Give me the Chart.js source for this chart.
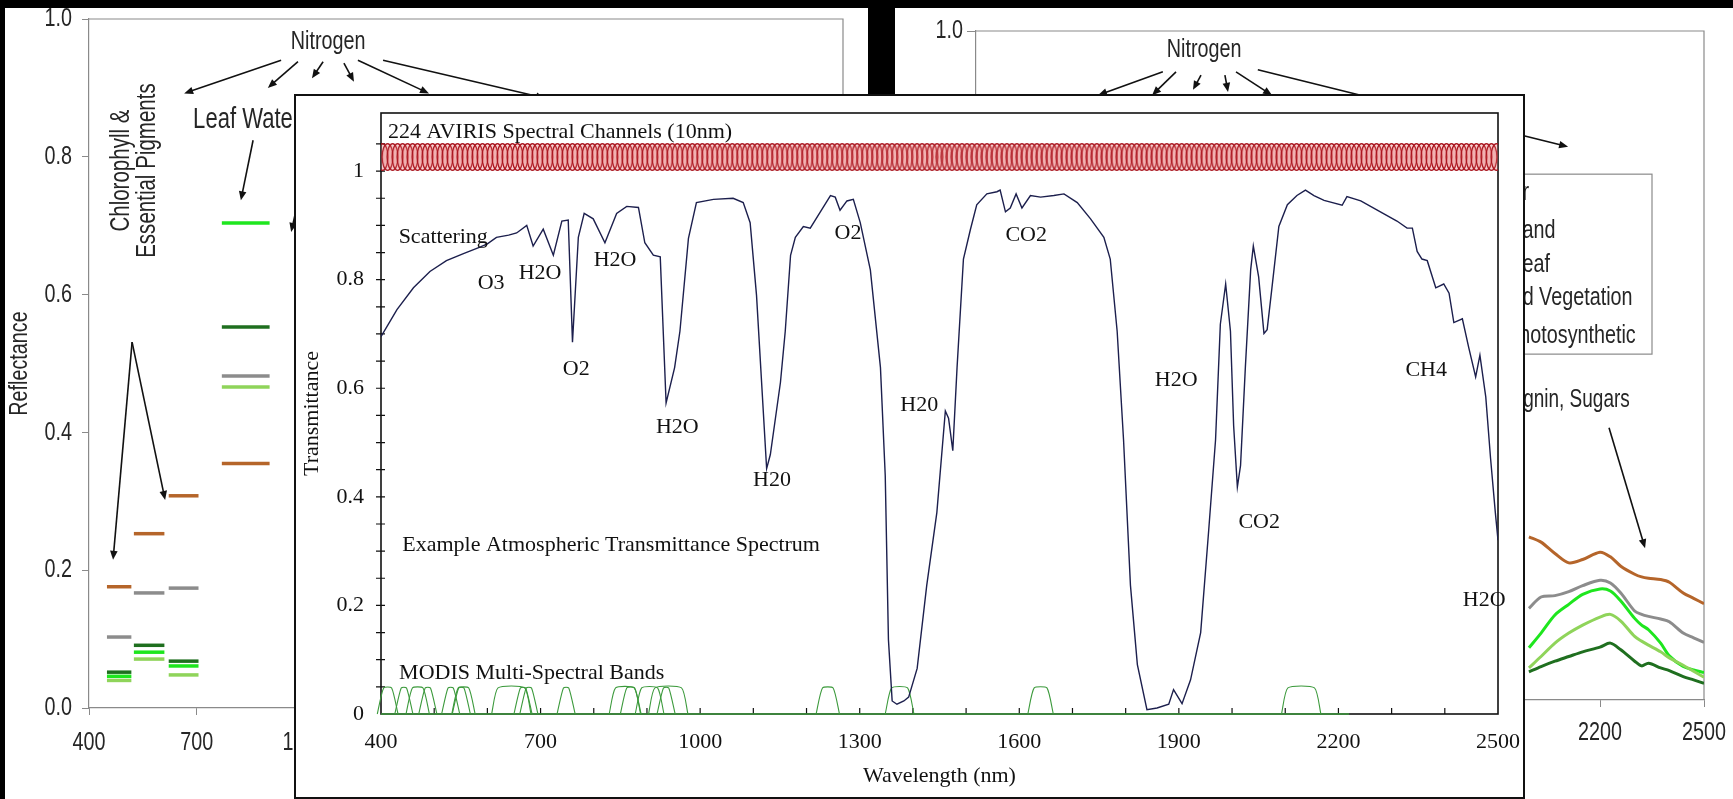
<!DOCTYPE html>
<html>
<head>
<meta charset="utf-8">
<script src="https://cdn.jsdelivr.net/npm/chart.js@4.4.1/dist/chart.umd.min.js"></script>
<style>
  html, body { margin: 0; padding: 0; background: #000; width: 1733px; height: 799px; overflow: hidden; }
  .panel { position: absolute; background: #fff; }
  #leftPanel { left: 5px; top: 8px; width: 863px; height: 791px; }
  #rightPanel { left: 895px; top: 8px; width: 838px; height: 791px; }
  #mainPanel { left: 294px; top: 94px; width: 1231px; height: 705px; border: 2px solid #111; box-sizing: border-box; }
  canvas { position: absolute; left: 0; top: 0; }
</style>
</head>
<body>
<div class="panel" id="leftPanel"><canvas id="leftChart" width="863" height="791"></canvas></div>
<div class="panel" id="rightPanel"><canvas id="rightChart" width="838" height="791"></canvas></div>
<div class="panel" id="mainPanel"><canvas id="mainChart" width="1227" height="701"></canvas></div>

<script>
// ── atmospheric transmittance (front chart) ──
const waveNm = [400, 430, 461, 492, 523, 555, 586, 600, 617, 640, 655, 674, 686, 705, 724, 740, 752, 760, 771, 782,
  799, 821, 843, 862, 884, 896, 912, 925, 936, 952, 962, 978, 993, 1025, 1062, 1081, 1094, 1106, 1125, 1132,
  1151, 1160, 1170, 1179, 1194, 1207, 1226, 1245, 1254, 1263, 1276, 1288, 1301, 1320, 1339, 1348, 1354, 1361, 1370, 1383,
  1392, 1408, 1426, 1445, 1461, 1467, 1475, 1483, 1495, 1508, 1520, 1539, 1558, 1564, 1574, 1583, 1594, 1605, 1621, 1640,
  1665, 1684, 1709, 1734, 1759, 1771, 1784, 1796, 1809, 1822, 1840, 1859, 1881, 1890, 1906, 1922, 1941, 1956, 1969, 1978,
  1988, 1997, 2003, 2010, 2016, 2025, 2035, 2040, 2050, 2060, 2066, 2075, 2088, 2104, 2122, 2138, 2154, 2173, 2207, 2216,
  2242, 2273, 2310, 2329, 2339, 2348, 2357, 2367, 2383, 2398, 2408, 2417, 2433, 2445, 2458, 2466, 2477, 2486, 2495, 2500];
const transmittance = [0.695, 0.745, 0.785, 0.815, 0.835, 0.848, 0.860, 0.866, 0.878, 0.882, 0.886, 0.900, 0.862, 0.893, 0.845, 0.908, 0.910, 0.685, 0.878, 0.922,
  0.912, 0.868, 0.922, 0.935, 0.933, 0.868, 0.845, 0.842, 0.573, 0.638, 0.705, 0.876, 0.942, 0.948, 0.950, 0.942, 0.905, 0.771, 0.452, 0.478,
  0.611, 0.705, 0.845, 0.878, 0.898, 0.895, 0.925, 0.955, 0.952, 0.928, 0.945, 0.948, 0.905, 0.818, 0.638, 0.439, 0.137, 0.024, 0.018, 0.024,
  0.031, 0.084, 0.237, 0.371, 0.558, 0.545, 0.485, 0.638, 0.838, 0.892, 0.938, 0.958, 0.962, 0.965, 0.925, 0.932, 0.958, 0.932, 0.955, 0.952,
  0.955, 0.958, 0.942, 0.912, 0.878, 0.838, 0.705, 0.505, 0.237, 0.091, 0.008, 0.011, 0.018, 0.045, 0.019, 0.063, 0.150, 0.337, 0.505, 0.718,
  0.792, 0.705, 0.531, 0.418, 0.458, 0.638, 0.818, 0.862, 0.805, 0.701, 0.708, 0.785, 0.898, 0.938, 0.955, 0.965, 0.955, 0.946, 0.937, 0.953,
  0.945, 0.928, 0.908, 0.895, 0.895, 0.852, 0.838, 0.835, 0.785, 0.792, 0.775, 0.721, 0.728, 0.675, 0.621, 0.661, 0.584, 0.471, 0.371, 0.320];

const waveTicks = [400, 700, 1000, 1300, 1600, 1900, 2200, 2500];
const transTicks = [0, 0.2, 0.4, 0.6, 0.8, 1];

// MODIS band edges (nm)
const modisLo = [405, 438, 459, 483, 526, 546, 545, 620, 662, 673, 743, 841, 862, 890, 931, 915, 1230, 1360, 1628, 2105];
const modisHi = [420, 448, 479, 493, 536, 556, 565, 670, 672, 683, 753, 876, 877, 920, 941, 965, 1250, 1390, 1652, 2155];
const modisTop = 0.048;
const modisSkirt = 12;
const modisBaselineEnd = 2220;

// AVIRIS: 224 contiguous channels, 400-2500 nm
const avirisCount = 224;
const avirisFirst = 403;
const avirisLast = 2497;
const avirisLevel = 1.026;

// ── vegetation reflectance, Landsat band means (left back chart) ──
const tmBandLo = [450, 525, 622, 770];
const tmBandHi = [518, 610, 705, 903];
const soilBand = [0.176, 0.253, 0.308, 0.355];
const grayBand = [0.103, 0.167, 0.174, 0.482];
const greenBand = [0.046, 0.081, 0.061, 0.704];
const lightBand = [0.040, 0.071, 0.048, 0.466];
const darkBand = [0.052, 0.091, 0.068, 0.553];
const reflTicks = [0, 0.2, 0.4, 0.6, 0.8, 1.0];

// ── vegetation reflectance spectra (right back chart) ──
const specWave = [1995, 2030, 2070, 2110, 2150, 2200, 2230, 2260, 2300, 2320, 2340, 2375, 2400, 2440, 2470, 2500];
const soilSpec = [0.244, 0.236, 0.219, 0.205, 0.210, 0.221, 0.214, 0.200, 0.188, 0.184, 0.182, 0.180, 0.176, 0.160, 0.152, 0.144];
const graySpec = [0.137, 0.154, 0.156, 0.162, 0.171, 0.179, 0.175, 0.160, 0.133, 0.128, 0.125, 0.121, 0.117, 0.100, 0.093, 0.086];
const greenSpec = [0.078, 0.100, 0.127, 0.143, 0.158, 0.166, 0.163, 0.148, 0.122, 0.112, 0.105, 0.085, 0.066, 0.050, 0.045, 0.041];
const lightSpec = [0.048, 0.065, 0.085, 0.100, 0.112, 0.124, 0.128, 0.118, 0.095, 0.088, 0.082, 0.072, 0.063, 0.052, 0.043, 0.034];
const darkSpec = [0.042, 0.050, 0.058, 0.065, 0.072, 0.079, 0.085, 0.075, 0.058, 0.051, 0.055, 0.048, 0.044, 0.035, 0.030, 0.025];
const legendLabels = ['Conifer', 'Grassland', 'Broadleaf', 'Shaded Vegetation', 'Non-photosynthetic'];

const COLORS = {
  soil: '#b5652a',
  gray: '#8c8c8c',
  green: '#1ee61e',
  light: '#8fd45a',
  dark: '#1f6f1f',
  curve: '#1c1f4d',
  modis: '#3c9a3c',
  axis: '#8a8a8a',
  text: '#262626',
};

// Arial Narrow look-alike: regular sans squeezed horizontally
const SANS = "'Liberation Sans', Arial, sans-serif";
const SQUEEZE = 0.76;
const SANS_SIZE = 26;
const SERIF = "'Liberation Serif', 'Times New Roman', serif";
const SERIF_SIZE = 22;

Chart.defaults.animation = false;
Chart.defaults.responsive = false;
Chart.defaults.plugins.legend.display = false;
Chart.defaults.plugins.tooltip.enabled = false;

function drawArrow(ctx, x1, y1, x2, y2, color) {
  const ang = Math.atan2(y2 - y1, x2 - x1);
  const head = 9, half = 3.8;
  ctx.strokeStyle = color;
  ctx.fillStyle = color;
  ctx.lineWidth = 1.6;
  ctx.beginPath();
  ctx.moveTo(x1, y1);
  ctx.lineTo(x2 - Math.cos(ang) * head * 0.8, y2 - Math.sin(ang) * head * 0.8);
  ctx.stroke();
  ctx.beginPath();
  ctx.moveTo(x2, y2);
  ctx.lineTo(x2 - head * Math.cos(ang) + half * Math.sin(ang), y2 - head * Math.sin(ang) - half * Math.cos(ang));
  ctx.lineTo(x2 - head * Math.cos(ang) - half * Math.sin(ang), y2 - head * Math.sin(ang) + half * Math.cos(ang));
  ctx.closePath();
  ctx.fill();
}

function squeezedText(ctx, text, x, y, align, squeeze, rotate) {
  ctx.save();
  ctx.translate(x, y);
  if (rotate) ctx.rotate(rotate * Math.PI / 180);
  ctx.scale(squeeze, 1);
  ctx.textAlign = align;
  ctx.textBaseline = 'middle';
  ctx.fillText(text, 0, 0);
  ctx.restore();
}

// text / arrow / box notes placed in data units
function makeNotes(notes) {
  return {
    id: 'notes',
    afterDatasetsDraw(chart) {
      const { ctx, scales: { x, y } } = chart;
      const px = (v) => x.getPixelForValue(v);
      const py = (v) => y.getPixelForValue(v);
      ctx.save();
      (notes.boxes || []).forEach(([a, b, c, d]) => {
        ctx.strokeStyle = COLORS.axis;
        ctx.lineWidth = 1.2;
        ctx.fillStyle = '#fff';
        ctx.fillRect(px(a), py(b), px(c) - px(a), py(d) - py(b));
        ctx.strokeRect(px(a), py(b), px(c) - px(a), py(d) - py(b));
      });
      (notes.arrows || []).forEach(([a, b, c, d]) => drawArrow(ctx, px(a), py(b), px(c), py(d), notes.arrowColor || '#111'));
      (notes.texts || []).forEach((t) => {
        ctx.font = `${t.size || notes.size}px ${notes.family}`;
        ctx.fillStyle = notes.color;
        squeezedText(ctx, t.text, px(t.x), py(t.y), t.align || 'center', notes.squeeze || 1, t.rotate);
      });
      ctx.restore();
    },
  };
}

// condensed tick labels (and y title) for the two back charts, placed from the library's ticks
function narrowTicks(yGap, xGap, yTitle) {
  return {
    id: 'narrowTicks',
    afterDraw(chart) {
      const { ctx, scales: { x, y }, chartArea: { left, top, bottom } } = chart;
      ctx.save();
      ctx.font = `${SANS_SIZE}px ${SANS}`;
      ctx.fillStyle = COLORS.text;
      y.ticks.forEach((t) => {
        squeezedText(ctx, Number(t.value).toFixed(1), left - yGap, y.getPixelForValue(t.value), 'right', SQUEEZE);
      });
      x.ticks.forEach((t) => {
        squeezedText(ctx, String(t.value), x.getPixelForValue(t.value), bottom + xGap, 'center', SQUEEZE);
      });
      if (yTitle) squeezedText(ctx, yTitle.text, yTitle.x, (top + bottom) / 2, 'center', SQUEEZE, -90);
      ctx.restore();
    },
  };
}

function fixBox(size, key) {
  return (s) => {
    s[key] = size;
    s.paddingTop = 0; s.paddingBottom = 0; s.paddingLeft = 0; s.paddingRight = 0;
  };
}

function segment(lo, hi, v) {
  return [{ x: lo, y: v }, { x: hi, y: v }];
}

function backFrame(id) {
  return {
    id,
    beforeDatasetsDraw(chart) {
      const { ctx, chartArea: { left, right, top, bottom } } = chart;
      ctx.save();
      ctx.strokeStyle = COLORS.axis;
      ctx.lineWidth = 1.2;
      ctx.beginPath();
      ctx.moveTo(left, top); ctx.lineTo(right, top); ctx.lineTo(right, bottom);
      ctx.stroke();
      ctx.restore();
    },
  };
}

function backScales(xHeight, yWidth, yTickLen) {
  return {
    x: {
      type: 'linear', min: 400, max: 2500,
      afterBuildTicks: (s) => { s.ticks = waveTicks.map((v) => ({ value: v })); },
      afterFit: fixBox(xHeight, 'height'),
      grid: { display: true, drawOnChartArea: false, color: COLORS.axis, tickLength: 7 },
      border: { color: COLORS.axis, width: 1.2 },
      ticks: { display: false },
    },
    y: {
      min: 0, max: 1,
      afterBuildTicks: (s) => { s.ticks = reflTicks.map((v) => ({ value: v })); },
      afterFit: fixBox(yWidth, 'width'),
      grid: { display: true, drawOnChartArea: false, color: COLORS.axis, tickLength: yTickLen },
      border: { color: COLORS.axis, width: 1.2 },
      ticks: { display: false },
    },
  };
}

// ── LEFT back chart ──
function renderLeft() {
  const series = [
    [soilBand, COLORS.soil], [grayBand, COLORS.gray], [lightBand, COLORS.light],
    [greenBand, COLORS.green], [darkBand, COLORS.dark],
  ];
  const datasets = [];
  series.forEach(([vals, color]) => {
    tmBandLo.forEach((lo, i) => {
      datasets.push({
        type: 'line', data: segment(lo, tmBandHi[i], vals[i]),
        borderColor: color, borderWidth: 3.5, pointRadius: 0, borderCapStyle: 'butt',
      });
    });
  });

  const notes = makeNotes({
    family: SANS, size: SANS_SIZE, color: COLORS.text, squeeze: SQUEEZE,
    texts: [
      { x: 1066, y: 0.967, text: 'Nitrogen' },
      { x: 690, y: 0.853, text: 'Leaf Water', align: 'left', size: 29 },
      { x: 492, y: 0.780, text: 'Chlorophyll &', rotate: -90, size: 27 },
      { x: 562, y: 0.780, text: 'Essential Pigments', rotate: -90, size: 27 },
    ],
    arrows: [
      [935, 0.940, 665, 0.892], [982, 0.938, 898, 0.900], [1052, 0.938, 1021, 0.914],
      [1110, 0.936, 1138, 0.909], [1149, 0.940, 1347, 0.892], [1219, 0.940, 1670, 0.885],
      [857, 0.824, 823, 0.737], [1015, 0.81, 963, 0.691],
      [520, 0.531, 467, 0.215], [520, 0.531, 612, 0.302],
    ],
  });

  new Chart(document.getElementById('leftChart'), {
    type: 'scatter',
    data: { datasets },
    options: {
      layout: { padding: { top: 11, right: 25, left: 0, bottom: 0 } },
      scales: backScales(91, 84, 7),
    },
    plugins: [backFrame('leftFrame'), notes, narrowTicks(17, 35, { text: 'Reflectance', x: 15 })],
  });
}

// ── RIGHT back chart ──
function renderRight() {
  const series = [
    [soilSpec, COLORS.soil], [graySpec, COLORS.gray], [lightSpec, COLORS.light],
    [greenSpec, COLORS.green], [darkSpec, COLORS.dark],
  ];
  const datasets = series.map(([vals, color]) => ({
    type: 'line',
    data: specWave.map((w, i) => ({ x: w, y: vals[i] })),
    borderColor: color, borderWidth: 3, pointRadius: 0, tension: 0.3,
  }));

  const legendRows = [0.758, 0.701, 0.650, 0.601, 0.545];
  const notes = makeNotes({
    family: SANS, size: SANS_SIZE, color: COLORS.text, squeeze: SQUEEZE,
    boxes: [[1623, 0.786, 2350, 0.517]],
    texts: [
      { x: 1058, y: 0.972, text: 'Nitrogen' },
      ...legendLabels.map((t, i) => ({ x: 1812, y: legendRows[i], text: t, align: 'left' })),
      { x: 2286, y: 0.448, text: 'Cellulose, Lignin, Sugars', align: 'right', size: 25 },
    ],
    arrows: [
      [939, 0.939, 752, 0.904], [977, 0.939, 908, 0.904], [1049, 0.934, 1026, 0.912],
      [1118, 0.934, 1127, 0.909], [1150, 0.939, 1254, 0.904], [1213, 0.942, 2108, 0.827],
      [2226, 0.407, 2330, 0.227],
    ],
  });

  new Chart(document.getElementById('rightChart'), {
    type: 'scatter',
    data: { datasets },
    options: {
      layout: { padding: { top: 23, right: 29, left: 0, bottom: 0 } },
      scales: backScales(99, 81, 9),
    },
    plugins: [backFrame('rightFrame'), notes, narrowTicks(13, 33, null)],
  });
}

// ── FRONT chart ──
function ellipseStamp() {
  const c = document.createElement('canvas');
  c.width = 13; c.height = 30;
  const g = c.getContext('2d');
  g.beginPath();
  g.ellipse(6.5, 15, 5.4, 13.4, 0, 0, Math.PI * 2);
  g.fillStyle = 'rgba(225,95,95,0.28)';
  g.fill();
  g.strokeStyle = 'rgba(170,22,32,1)';
  g.lineWidth = 1.3;
  g.stroke();
  return c;
}

function renderMain() {
  const avirisCenters = Array.from({ length: avirisCount },
    (_, i) => avirisFirst + i * (avirisLast - avirisFirst) / (avirisCount - 1));

  const datasets = [
    {
      type: 'line', label: 'Transmittance',
      data: waveNm.map((w, i) => ({ x: w, y: transmittance[i] })),
      borderColor: COLORS.curve, borderWidth: 1.4, pointRadius: 0, tension: 0,
    },
    ...modisLo.map((lo, i) => ({
      type: 'line',
      data: [
        { x: lo - modisSkirt, y: 0 }, { x: lo, y: modisTop },
        { x: modisHi[i], y: modisTop }, { x: modisHi[i] + modisSkirt, y: 0 },
      ],
      borderColor: COLORS.modis, borderWidth: 1.1, pointRadius: 0, tension: 0.2, clip: false,
    })),
    {
      type: 'line',
      data: [{ x: 400, y: 0 }, { x: modisBaselineEnd, y: 0 }],
      borderColor: COLORS.modis, borderWidth: 1.6, pointRadius: 0, clip: false,
    },
    {
      type: 'scatter', label: 'AVIRIS',
      data: avirisCenters.map((c) => ({ x: c, y: avirisLevel })),
      pointStyle: ellipseStamp(), pointRadius: 6,
    },
  ];

  const notes = makeNotes({
    family: SERIF, size: SERIF_SIZE, color: '#111',
    texts: [
      { x: 413, y: 1.072, text: '224 AVIRIS Spectral Channels (10nm)', align: 'left' },
      { x: 517, y: 0.878, text: 'Scattering' },
      { x: 607, y: 0.794, text: 'O3' },
      { x: 699, y: 0.812, text: 'H2O' },
      { x: 840, y: 0.836, text: 'H2O' },
      { x: 767, y: 0.635, text: 'O2' },
      { x: 1278, y: 0.886, text: 'O2' },
      { x: 957, y: 0.529, text: 'H2O' },
      { x: 1135, y: 0.431, text: 'H20' },
      { x: 1412, y: 0.569, text: 'H20' },
      { x: 1613, y: 0.882, text: 'CO2' },
      { x: 1895, y: 0.615, text: 'H2O' },
      { x: 2051, y: 0.354, text: 'CO2' },
      { x: 2365, y: 0.634, text: 'CH4' },
      { x: 2474, y: 0.210, text: 'H2O' },
      { x: 440, y: 0.311, text: 'Example Atmospheric Transmittance Spectrum', align: 'left' },
      { x: 434, y: 0.076, text: 'MODIS Multi-Spectral Bands', align: 'left' },
    ],
  });

  const frame = {
    id: 'mainFrame',
    beforeDatasetsDraw(chart) {
      const { ctx, chartArea: { left, right, top, bottom }, scales: { x, y } } = chart;
      ctx.save();
      ctx.strokeStyle = '#111';
      ctx.lineWidth = 1.6;
      ctx.strokeRect(left, top, right - left, bottom - top);
      ctx.lineWidth = 1.2;
      ctx.beginPath();
      for (let w = 500; w < 2500; w += 100) {
        const p = x.getPixelForValue(w);
        ctx.moveTo(p, bottom); ctx.lineTo(p, bottom - 6);
      }
      for (let k = 1; k <= 21; k++) {
        const p = y.getPixelForValue(k * 0.05);
        ctx.moveTo(left - 5, p); ctx.lineTo(left + 4, p);
      }
      ctx.stroke();
      ctx.restore();
    },
  };

  new Chart(document.getElementById('mainChart'), {
    type: 'scatter',
    data: { datasets },
    options: {
      layout: { padding: { top: 17, right: 25, left: 0, bottom: 0 } },
      scales: {
        x: {
          type: 'linear', min: 400, max: 2500,
          afterBuildTicks: (s) => { s.ticks = waveTicks.map((v) => ({ value: v })); },
          afterFit: fixBox(83, 'height'),
          grid: { display: false, drawTicks: false },
          border: { display: false },
          ticks: { color: '#111', padding: 15, font: { family: SERIF, size: SERIF_SIZE }, maxRotation: 0, callback: (v) => String(v) },
          title: { display: true, text: 'Wavelength (nm)', color: '#111', font: { family: SERIF, size: SERIF_SIZE }, padding: { top: 0, bottom: 8 } },
        },
        y: {
          min: 0, max: 1.107,
          afterBuildTicks: (s) => { s.ticks = transTicks.map((v) => ({ value: v })); },
          afterFit: fixBox(85, 'width'),
          grid: { display: false, drawTicks: false },
          border: { display: false },
          ticks: { color: '#111', padding: 17, font: { family: SERIF, size: SERIF_SIZE }, callback: (v) => String(v) },
          title: { display: true, text: 'Transmittance', color: '#111', font: { family: SERIF, size: SERIF_SIZE }, padding: { top: 3, bottom: 0 } },
        },
      },
    },
    plugins: [frame, notes],
  });
}

renderLeft();
renderRight();
renderMain();
</script>
</body>
</html>
